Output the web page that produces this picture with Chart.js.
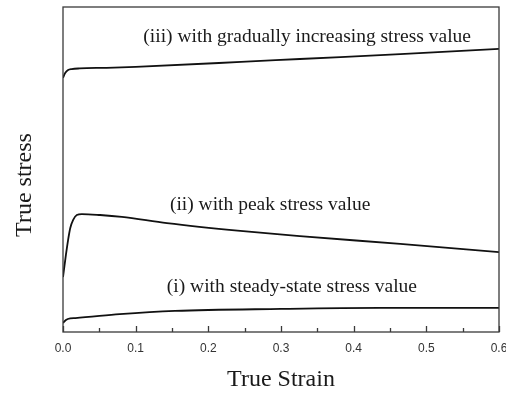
<!DOCTYPE html>
<html>
<head>
<meta charset="utf-8">
<script src="https://cdn.jsdelivr.net/npm/chart.js@4/dist/chart.umd.min.js"></script>
<style>
html,body{margin:0;padding:0;background:#fff;}
#wrap{width:506px;height:394px;position:relative;}
</style>
</head>
<body>
<div id="wrap"><canvas id="c" width="506" height="394"></canvas></div>
<script>
// ---- data ----
const xTickValues = [0, 0.1, 0.2, 0.3, 0.4, 0.5, 0.6];
const xTickLabels = ['0.0', '0.1', '0.2', '0.3', '0.4', '0.5', '0.6'];
const minorTickValues = [0.05, 0.15, 0.25, 0.35, 0.45, 0.55];

const curveNames = ['(iii) with gradually increasing stress value', '(ii) with peak stress value', '(i) with steady-state stress value'];

const iiiStrain = [0, 0.003, 0.007, 0.012, 0.023, 0.06, 0.1, 0.245, 0.326, 0.464, 0.6];
const iiiStress = [78.2, 79.7, 80.6, 80.9, 81.1, 81.3, 81.6, 83.1, 84.0, 85.5, 87.1];

const iiStrain = [0, 0.004, 0.007, 0.010, 0.014, 0.019, 0.026, 0.051, 0.081, 0.143, 0.244, 0.326, 0.464, 0.6];
const iiStress = [16.9, 23.7, 28.3, 32.0, 34.5, 36.0, 36.3, 36.0, 35.4, 33.5, 31.1, 29.5, 27.1, 24.6];

const iStrain = [0, 0.004, 0.01, 0.017, 0.078, 0.154, 0.3, 0.436, 0.6];
const iStress = [2.8, 3.7, 4.2, 4.3, 5.5, 6.5, 7.1, 7.4, 7.4];

// ---- build chart structures ----
function pts(xs, ys){ return xs.map((x, i) => ({x: x, y: ys[i]})); }

const labelAnchors = [
  {x: 0.336, y: 90.8},
  {x: 0.285, y: 39.1},
  {x: 0.315, y: 14.0}
];

const frameAndText = {
  id: 'frameAndText',
  afterDatasetsDraw(chart){
    const {ctx, chartArea: a, scales: {x, y}} = chart;
    ctx.save();
    ctx.strokeStyle = '#3a3a3a';
    ctx.lineWidth = 1.3;
    ctx.strokeRect(a.left, a.top, a.right - a.left, a.bottom - a.top);
    ctx.beginPath();
    xTickValues.forEach(v => { const px = Math.round(x.getPixelForValue(v)) + 0.5; ctx.moveTo(px, a.bottom); ctx.lineTo(px, a.bottom - 6); });
    minorTickValues.forEach(v => { const px = Math.round(x.getPixelForValue(v)) + 0.5; ctx.moveTo(px, a.bottom); ctx.lineTo(px, a.bottom - 4); });
    ctx.stroke();
    ctx.fillStyle = '#1a1a1a';
    ctx.font = '19.5px "Liberation Serif", "Times New Roman", serif';
    ctx.textAlign = 'center';
    ctx.textBaseline = 'middle';
    curveNames.forEach((t, i) => {
      ctx.fillText(t, x.getPixelForValue(labelAnchors[i].x), y.getPixelForValue(labelAnchors[i].y));
    });
    ctx.font = '24px "Liberation Serif", "Times New Roman", serif';
    ctx.translate(25, 185);
    ctx.rotate(-Math.PI / 2);
    ctx.fillText('True stress', 0, 0);
    ctx.restore();
  }
};

const lineStyle = {borderColor: '#111', borderWidth: 1.8, pointRadius: 0, fill: false, cubicInterpolationMode: 'monotone'};

new Chart(document.getElementById('c'), {
  type: 'line',
  data: {
    datasets: [
      Object.assign({label: curveNames[0], data: pts(iiiStrain, iiiStress)}, lineStyle),
      Object.assign({label: curveNames[1], data: pts(iiStrain, iiStress)}, lineStyle),
      Object.assign({label: curveNames[2], data: pts(iStrain, iStress)}, lineStyle)
    ]
  },
  options: {
    responsive: false,
    animation: false,
    devicePixelRatio: 1,
    layout: {padding: {top: 7, right: 7, left: 0, bottom: 0}},
    plugins: {legend: {display: false}, tooltip: {enabled: false}},
    scales: {
      x: {
        type: 'linear', min: 0, max: 0.6,
        afterBuildTicks(scale){ scale.ticks = xTickValues.map(v => ({value: v})); },
        ticks: {
          callback: (v, i) => xTickLabels[i],
          color: '#333', font: {family: '"Liberation Sans", Arial, sans-serif', size: 12},
          padding: 9, maxRotation: 0, autoSkip: false
        },
        grid: {display: false, drawTicks: false},
        border: {display: false},
        title: {display: true, text: 'True Strain', color: '#1a1a1a',
          font: {family: '"Liberation Serif", "Times New Roman", serif', size: 24},
          padding: {top: 0, bottom: 0}},
        afterFit(scale){ scale.height = 62; scale.paddingRight = 0; scale.paddingLeft = 0; }
      },
      y: {
        type: 'linear', min: 0, max: 100,
        ticks: {display: false},
        grid: {display: false, drawTicks: false},
        border: {display: false},
        afterFit(scale){ scale.width = 63; }
      }
    }
  },
  plugins: [frameAndText]
});
</script>
</body>
</html>
